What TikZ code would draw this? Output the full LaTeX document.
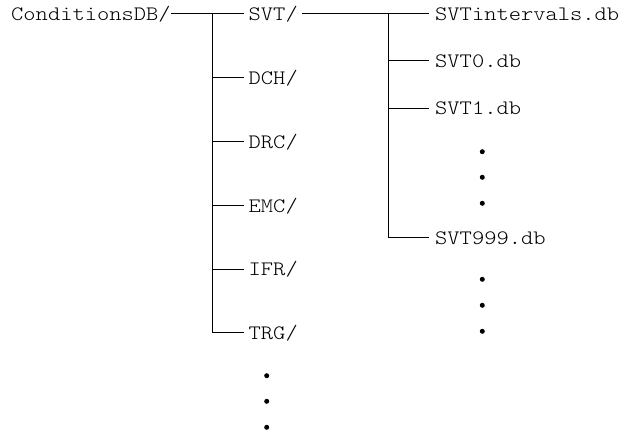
\documentclass[tikz,border=0pt]{standalone}
\usepackage{fontspec}
\setmainfont[FakeStretch=1.14]{Latin Modern Mono Light}
\begin{document}
\begin{tikzpicture}[x=1pt,y=-1pt,
  lbl/.style={anchor=west,inner ysep=0pt,text height=13.4pt,text depth=0pt,font=\fontsize{20.5}{24}\selectfont},
  l1/.style={lbl,inner xsep=4.5pt},
  l2/.style={lbl,inner xsep=6pt},
  conn/.style={line width=1pt},
  dotm/.style={circle,fill,inner sep=0pt,minimum size=5pt}]
\useasboundingbox (0,0) rectangle (629,435);
% root
\node[lbl,inner xsep=0pt] (root) at (11,14) {ConditionsDB/};
\coordinate (v1) at (212.7,0);
\coordinate (v2) at (388.3,0);
% first level
\node[l1] (svt) at (244,14) {SVT/};
\node[l1] (dch) at (244,77.8) {DCH/};
\node[l1] (drc) at (244,141.6) {DRC/};
\node[l1] (emc) at (244,205.4) {EMC/};
\node[l1] (ifr) at (244,269.2) {IFR/};
\node[l1] (trg) at (244,333) {TRG/};
% second level
\node[l2] (int) at (429,14) {SVTintervals.db};
\node[l2] (s0) at (429,61) {SVT0.db};
\node[l2] (s1) at (429,108.3) {SVT1.db};
\node[l2] (s999) at (429,237.7) {SVT999.db};
% dots
\node[dotm] (a1) at (482.3,151.7) {};
\node[dotm] (a2) at (482.3,177.3) {};
\node[dotm] (a3) at (482.3,203.3) {};
\node[dotm] (b1) at (482.3,279.3) {};
\node[dotm] (b2) at (482.3,305.3) {};
\node[dotm] (b3) at (482.3,331.3) {};
\node[dotm] (c1) at (266.7,375.7) {};
\node[dotm] (c2) at (266.7,401.3) {};
\node[dotm] (c3) at (266.7,427.3) {};
% connectors
\draw[conn] (root.east) -- (svt.west);
\draw[conn] (svt.east) -- (int.west);
\draw[conn] (root.east -| v1) -- (trg.west -| v1);
\foreach \n in {dch,drc,emc,ifr,trg}{\draw[conn] (\n.west -| v1) -- (\n.west);}
\draw[conn] (int.west -| v2) -- (s999.west -| v2);
\foreach \n in {s0,s1,s999}{\draw[conn] (\n.west -| v2) -- (\n.west);}
\end{tikzpicture}
\end{document}
